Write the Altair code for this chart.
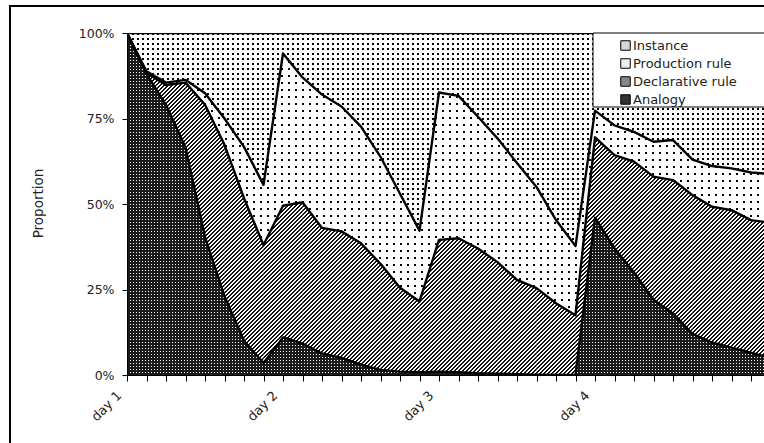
import altair as alt
import pandas as pd

# ---------------- data (proportions in %, one point per session) ----------------
session = list(range(34))
day_labels = ["day 1", "day 2", "day 3", "day 4"]
sessions_per_day = 8

analogy = [100, 88, 79, 66.5, 40.4, 23, 10, 3.5,
           11, 9.2, 6.3, 5, 3, 1.5, 1, 0.8,
           1, 0.8, 0.5, 0.4, 0.2, 0.1, 0, 0,
           46, 37, 30, 22, 18, 12, 9.5, 8, 6.5, 5]
declarative = [0, 0.3, 5.8, 19, 38.6, 44.3, 41.7, 34.5,
               38.5, 41.3, 36.7, 37, 35.5, 31, 24.5, 20.7,
               38.5, 39.2, 36.5, 32.6, 27.6, 25.3, 21, 17.5,
               23.5, 27.3, 32.4, 36, 39, 40.6, 39.7, 40.2, 38.8, 39.5]
production = [0, 0.5, 0.7, 0.8, 3.4, 7.7, 15, 17.6,
              44.5, 36.5, 39, 36.5, 34.1, 31.3, 27.5, 20.7,
              43.1, 41.6, 38.5, 36.2, 34.2, 29.6, 24.3, 20.2,
              7.8, 8.7, 8.7, 10.2, 11.7, 10.4, 11.9, 12.2, 13.9, 14.3]
instance = [0, 11.2, 14.5, 13.7, 17.6, 25, 33.3, 44.4,
            6, 13, 18, 21.5, 27.4, 36.2, 47, 57.8,
            17.4, 18.4, 24.5, 30.8, 38, 45, 54.7, 62.3,
            22.7, 27, 28.9, 31.8, 31.3, 37, 38.9, 39.6, 40.8, 41.2]

series_names = ["Analogy", "Declarative rule", "Production rule", "Instance"]
series_values = [analogy, declarative, production, instance]
legend_order = ["Instance", "Production rule", "Declarative rule", "Analogy"]
legend_fill = ["#d6d6d6", "#eeeeee", "#888888", "#333333"]

rows = []
for k, (name, vals) in enumerate(zip(series_names, series_values)):
    for s, v in zip(session, vals):
        rows.append({"session": s, "series": name, "value": v, "order": k})
df = pd.DataFrame(rows)

# ---------------- styles ----------------
W, H = 637, 342
STEP = 19.5                      # px per session
PX = H / 100                     # px per percentage point
FONT = "DejaVu Sans"
TXT = "#222222"
CLEAR = "rgba(0,0,0,0)"
span_w = (len(session) - 1) * STEP   # pixel width of every area path


def bands(length, period, on, on_color, off_color, phase=0.0):
    """Stops of a striped gradient: 'on' px of on_color every 'period' px, shifted by phase px."""
    out, start = [], -(phase % period)
    while start < length:
        pts = [start, start + on, start + period]
        a, b, c = [min(max(p / length, 0.0), 1.0) for p in pts]
        out += [alt.GradientStop(color=on_color, offset=a), alt.GradientStop(color=on_color, offset=b),
                alt.GradientStop(color=off_color, offset=b), alt.GradientStop(color=off_color, offset=c)]
        start += period
    return out


# stacked lower / upper bounds of each band (for texture geometry only)
cum, lows, highs = [0.0] * len(session), {}, {}
for name, vals in zip(series_names, series_values):
    lo = cum[:]
    cum = [a + b for a, b in zip(cum, vals)]
    lows[name], highs[name] = lo, cum[:]
band_h = {n: (max(highs[n]) - min(lows[n])) * PX for n in series_names}

# dotted textures: rows on an opaque layer, columns cut through an overlay
dot_styles = {  # name: (period px, dot px, dot colour, background)
    "Instance": (5, 2, "#000000", "#ffffff"),
    "Production rule": (7, 2, "#000000", "#ffffff"),
    "Analogy": (3, 1, "#ffffff", "#1a1a1a"),
}

label_expr = ("datum.value % {n} === 0 ? {arr}[datum.value / {n}] : ''"
              .format(n=sessions_per_day, arr="[" + ",".join("'" + d + "'" for d in day_labels) + "]"))

x_enc = alt.X("session:Q",
              scale=alt.Scale(domain=[0, W / STEP], nice=False, zero=False),
              axis=alt.Axis(values=session[:33], labelExpr=label_expr, title=None, grid=False,
                            labelAngle=315, labelAlign="right", labelBaseline="middle",
                            labelPadding=12, labelOffset=-8, tickSize=6, labelOverlap=False,
                            labelFlush=False, labelBound=False, labelFont=FONT, labelFontSize=13,
                            labelColor=TXT, domainColor="black", tickColor="black", zindex=1))
y_scale = alt.Scale(domain=[0, 100], nice=False)
y_axis = alt.Axis(values=[0, 25, 50, 75, 100], labelExpr="datum.value + '%'", title="Proportion",
                  grid=False, tickSize=5, labelPadding=8, labelFont=FONT, labelFontSize=12.5,
                  labelColor=TXT, domainColor="black", tickColor="black", zindex=1,
                  titleFont=FONT, titleFontSize=13.5, titleFontWeight="normal", titleColor=TXT,
                  titleAngle=270, titleX=-89, titleY=170, titleAlign="center", titleBaseline="middle")
y_lo = alt.Y("lo:Q", scale=y_scale, axis=y_axis)

base = alt.Chart(df).transform_stack(
    stack="value", groupby=["session"], as_=["lo", "hi"], sort=[alt.SortField("order", order="ascending")]
)

areas = base.mark_area(clip=True).encode(
    x=x_enc, y=y_lo, y2="hi:Q",
    color=alt.Color("series:N",
                    scale=alt.Scale(domain=legend_order, range=legend_fill),
                    legend=alt.Legend(orient="none", legendX=466, legendY=2, title=None,
                                      padding=4, symbolType="square", symbolSize=90,
                                      symbolStrokeColor="black", symbolStrokeWidth=1,
                                      symbolOffset=22, labelOffset=1,
                                      labelFont=FONT, labelFontSize=13, labelColor=TXT, rowPadding=3)),
    order=alt.Order("order:Q"),
)

layers = [areas]
for name, (period, dot, dot_col, bg) in dot_styles.items():
    sub = base.transform_filter(alt.datum.series == name)
    rows_fill = alt.LinearGradient(gradient="linear", x1=0, y1=0, x2=0, y2=1,
                                   stops=bands(band_h[name], period, dot, dot_col, bg))
    cols_fill = alt.LinearGradient(gradient="linear", x1=0, y1=0, x2=1, y2=0,
                                   stops=bands(span_w, period, dot, CLEAR, bg))
    layers.append(sub.mark_area(clip=True, fill=rows_fill).encode(x=x_enc, y=y_lo, y2="hi:Q"))
    layers.append(sub.mark_area(clip=True, fill=cols_fill).encode(x=x_enc, y=y_lo, y2="hi:Q"))

# diagonal hatch (////) for the declarative-rule band, drawn session-to-session so that
# each piece is small enough for a crisp striped gradient; stripes are kept in phase
dec_lo, dec_hi = lows["Declarative rule"], highs["Declarative rule"]
hatch_rows = []
for j in range(len(session) - 1):
    for s in (j, j + 1):
        hatch_rows.append({"piece": j, "session": s, "lo": dec_lo[s], "hi": dec_hi[s]})
hatch_df = pd.DataFrame(hatch_rows)
for j in range(len(session) - 1):
    x0 = j * STEP
    y_top = (100 - max(dec_hi[j], dec_hi[j + 1])) * PX
    y_bot = (100 - min(dec_lo[j], dec_lo[j + 1])) * PX
    hs = y_bot - y_top
    if hs < 0.5:
        continue
    rr = hs / STEP
    sc = (1 + rr) / (1 + rr * rr)
    grad = alt.LinearGradient(gradient="linear", x1=0, y1=0, x2=sc, y2=sc * rr,
                              stops=bands(STEP + hs, 4, 2, "#111111", "#ffffff", phase=x0 + y_top - 0.5))
    layers.append(alt.Chart(hatch_df).transform_filter(alt.datum.piece == j).mark_area(
        clip=True, fill=grad).encode(x=x_enc, y=y_lo, y2="hi:Q"))

layers.append(base.mark_line(clip=True, color="black", strokeWidth=2.4, strokeJoin="round").encode(
    x=x_enc, y=alt.Y("hi:Q", scale=y_scale, axis=y_axis), detail="series:N"))

one = pd.DataFrame({"k": [0]})
# legend box (runs off the right edge like the original) and the outer frame
layers.append(alt.Chart(one).mark_rect(fill="white", stroke="black", strokeWidth=1).encode(
    x=alt.value(466), x2=alt.value(W + 3), y=alt.value(0), y2=alt.value(74)))
layers.append(alt.Chart(one).mark_rule(color="black", strokeWidth=2).encode(
    x=alt.value(-117), y=alt.value(-27), y2=alt.value(420)))
layers.append(alt.Chart(one).mark_rule(color="black", strokeWidth=2).encode(
    x=alt.value(-118), x2=alt.value(W + 5), y=alt.value(-27)))

chart = alt.layer(*layers).properties(
    width=W, height=H,
    autosize=alt.AutoSizeParams(type="none"),
    padding={"left": 127, "top": 33, "right": 0, "bottom": 68},
    background="white",
).configure_view(stroke=None)

chart.save("out.html", embed_options={"renderer": "svg", "actions": False})
